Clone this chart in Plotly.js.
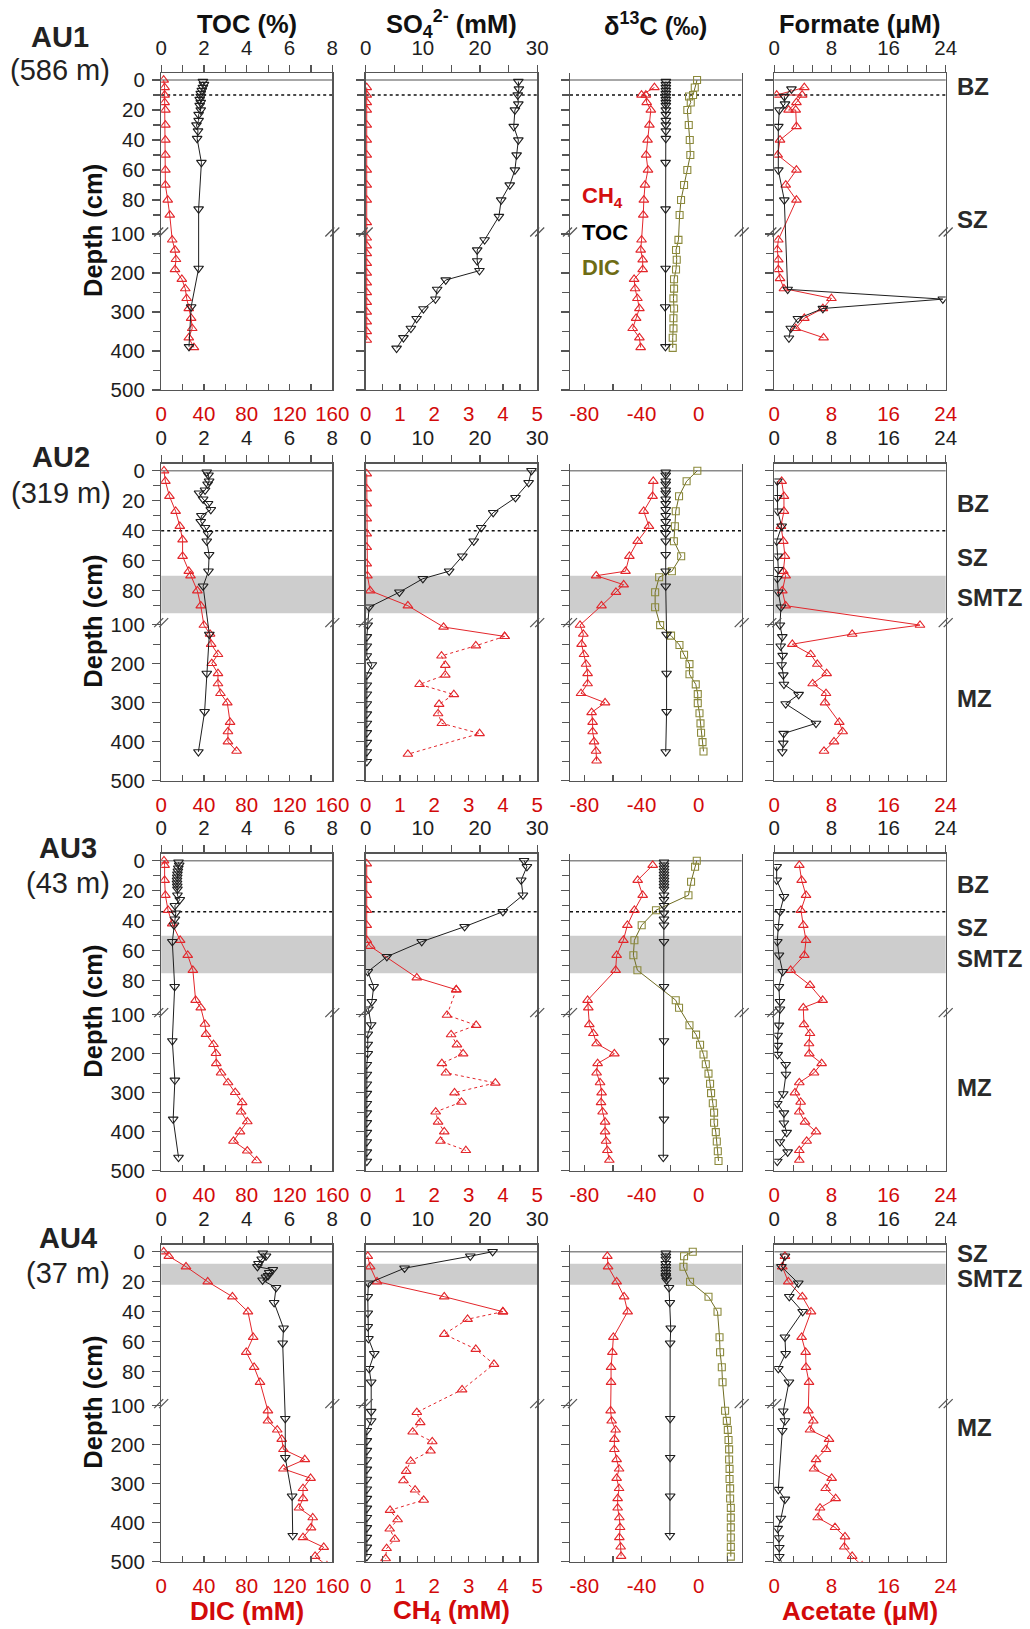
<!DOCTYPE html>
<html><head><meta charset="utf-8">
<script src="https://cdn.plot.ly/plotly-3.0.1.min.js"></script>
<style>body{margin:0;background:#fff}#chart{width:1030px;height:1629px}</style>
</head><body><div id="chart"></div>
<script>
// ---------------- DATA (depth in cm) ----------------
// AU1 (586 m)
const au1_toc_depth = [1,3,5,7,9,11,13,15,17,20,23,27,30,34,39,55,86,188,287,389];
const au1_toc = [1.95,2.0,1.95,1.9,1.85,1.85,1.8,1.85,1.8,1.85,1.75,1.75,1.65,1.72,1.68,1.88,1.75,1.75,1.4,1.3];
const au1_d13toc = [-23,-23,-23,-23,-23,-23,-23,-23,-23,-23,-23,-23,-23,-23,-23,-23.2,-23.2,-23.2,-23.5,-23.3];
const au1_dic_depth = [0,5,10,15,20,30,40,50,60,70,80,90,115,141,165,191,216,240,265,291,316,342,366,391];
const au1_dic = [2.3,3.2,3.2,3.2,3.9,3.9,3.9,3.9,3.9,3.9,6.1,8.0,10.3,12.9,13.8,12.9,19.3,22.5,23.8,25.8,28.0,29.0,25.8,30.6];
const au1_so4_depth = [1,6,10,16,20,31,40,50,60,70,80,91,115,141,169,194,218,242,267,292,317,342,366,393];
const au1_so4 = [26.7,26.8,26.6,26.7,26.1,25.9,26.7,26.4,26.1,25.2,23.7,23.3,20.8,19.5,19.5,19.9,14.0,12.5,12.2,10.1,8.9,7.9,6.6,5.4];
const au1_ch4_depth = [5,10,15,20,30,40,50,60,70,80,95,110,130,150,175,200,225,250,275,300,325,350,372];
const au1_ch4 = [0.03,0.03,0.03,0.03,0.03,0.03,0.03,0.03,0.03,0.03,0.03,0.03,0.03,0.03,0.03,0.03,0.03,0.03,0.03,0.03,0.03,0.03,0.03];
const au1_d13ch4_depth = [5,10,10,15,20,30,40,50,60,70,80,90,115,141,166,191,216,240,265,291,316,342,366,391];
const au1_d13ch4 = [-31,-40,-37,-36.4,-33.5,-34.5,-35.8,-36.8,-35.5,-37.6,-38.4,-38.8,-40,-40.6,-39.2,-39.2,-45.2,-44.5,-42.9,-41.5,-43.8,-46.2,-41.5,-40.6];
const au1_d13dic_depth = [0,5,10,11,15,20,30,40,50,60,70,80,90,115,141,166,191,216,240,265,291,316,342,366,392];
const au1_d13dic = [-1.2,-2.8,-4.0,-6.8,-5.6,-8.0,-7.0,-6.3,-5.9,-8.0,-10.3,-12.4,-13.4,-14.2,-15.9,-15.4,-15.9,-17.3,-17.3,-17.7,-17.3,-17.7,-17.7,-18.2,-18.2];
const au1_form_depth = [6,11,16,20,31,60,80,242,267,291,317,342,367];
const au1_form = [2.4,1.4,1.5,0.7,0.56,0.56,1.4,1.87,23.6,6.8,3.3,2.3,2.05];
const au1_acet_depth = [5,10,10,15,20,20,31,40,50,60,70,80,115,140,166,191,214,240,265,291,316,342,366];
const au1_acet = [4.2,0.33,3.9,3.1,2.0,3.0,3.1,0.8,0.47,3.1,1.6,3.1,0.56,0.42,0.56,0.56,0.8,1.35,8.0,6.8,4.2,3.0,6.9];

// AU2 (319 m)
const au2_toc_depth = [1,3,7,9,13,15,19,22,26,30,34,38,42,47,56,67,77,125,225,323,426];
const au2_toc = [2.13,2.21,2.24,2.17,2.05,1.77,1.96,2.19,2.32,1.88,1.85,2.05,2.19,2.13,2.24,2.21,1.96,2.25,2.13,2.03,1.74];
const au2_d13toc = [-23.1,-23.1,-23.1,-23.1,-23.1,-23.1,-23.1,-23.1,-23.1,-23.1,-23.1,-23.1,-23.1,-23.1,-23.1,-23.1,-23.1,-22.5,-22.5,-22.5,-23.1];
const au2_dic_depth = [0,7,17,27,37,46,57,67,70,80,90,101,124,150,176,199,225,251,276,300,350,374,400,424];
const au2_dic = [2.6,3.9,7.7,13.5,17.4,20,20,25.8,27.4,33.8,37,39.9,45.7,46.7,53.1,47.3,53.1,53.1,55.4,61.8,64.4,62.4,62.4,70.5];
const au2_so4_depth = [0,8,18,28,38,47,57,67,72,81,91,101,131,155,180,203,229,255,278,303,329,353,377,402,426,451];
const au2_so4 = [29,28.5,26.2,22.3,20.2,18.9,16.9,14.6,10,5.9,0.6,0.35,0.2,0.2,0.2,1.08,0.2,0.2,0.2,0.2,0.2,0.2,0.2,0.2,0.2,0.2];
const au2_ch4_depth = [2,12,22,32,42,51,62,70,80,90,106,130,154,180,204,229,253,279,304,328,353,379,432];
const au2_ch4 = [0.03,0.03,0.03,0.03,0.03,0.03,0.03,0.05,0.13,1.23,2.27,4.05,3.21,2.21,2.32,2.32,1.57,2.57,2.14,2.11,2.22,3.32,1.23];
const au2_d13ch4_depth = [7,17,27,37,47,57,67,70,76,81,90,101,124,150,176,201,225,251,276,300,325,350,374,400,424,449];
const au2_d13ch4 = [-31.8,-32.3,-38.5,-34.8,-42.7,-48.5,-51.2,-71.7,-52.5,-57.9,-68,-83,-80.7,-81.9,-80.2,-78.8,-77.7,-77.7,-82.3,-65.5,-74.9,-74.2,-74.2,-73.2,-71.8,-71.4];
const au2_d13dic_depth = [0,7,17,27,37,47,57,67,71,81,91,101,128,152,177,201,227,253,278,301,327,353,377,401,425];
const au2_d13dic = [-1,-8.5,-13.8,-16.1,-16.7,-17.4,-12.3,-18.8,-27.7,-30.5,-30.5,-27,-19.4,-13.5,-10.3,-6.5,-6.5,-2.1,-0.7,-0.7,0.5,1.2,1.6,2.6,3.3];
const au2_form_depth = [7,18,27,37,47,57,66,72,81,91,101,131,155,179,203,229,253,279,303,353,379,404,426];
const au2_form = [0.42,0.42,0.47,1.03,0.33,0.47,0.56,0.42,0.56,0.93,0.79,1.12,0.89,1.17,1.03,1.26,1.35,3.41,1.59,5.84,1.31,1.26,1.12];
const au2_acet_depth = [7,17,27,37,47,57,67,70,80,90,101,124,150,176,201,225,251,276,300,350,374,400,424];
const au2_acet = [1.03,1.35,1.35,0.93,1.26,1.49,1.26,1.59,1.12,1.59,20.4,10.9,2.52,5.09,6.02,7.33,5.37,7.24,7.1,9.1,9.57,8.36,6.96];

// AU3 (43 m)
const au3_toc_depth = [1,3,5,7,9,11,13,15,17,19,23,26,30,35,39,43,54,84,167,268,368,466];
const au3_toc = [0.81,0.84,0.8,0.78,0.76,0.75,0.74,0.74,0.75,0.76,0.76,0.87,0.64,0.68,0.64,0.6,0.52,0.63,0.52,0.64,0.56,0.81];
const au3_d13toc = [-24.3,-24.3,-24.3,-24.3,-24.3,-24.3,-24.3,-24.3,-24.3,-24.3,-24.3,-24.3,-24.3,-24.3,-24.3,-24.3,-24.3,-24.3,-24.3,-24.3,-24.3,-24.8];
const au3_dic_depth = [0,3,13,23,33,42,53,63,73,93,98,124,150,176,199,225,249,274,299,325,349,374,400,424,449,474];
const au3_dic = [2.6,3.2,3.2,3.9,6.4,10.3,17.7,24.8,29.6,32.2,37,40.9,41.9,48.9,51.2,51.5,56,62.5,69.2,75.7,74.7,80.5,73.7,67.6,80.5,89.2];
const au3_so4_depth = [0,4,13,23,34,44,54,64,74,84,94,99,126,150,176,200,228,253,278,302,328,352,377,402,426,452,476];
const au3_so4 = [27.7,28.2,27.2,27.5,24,17.3,9.8,3.7,0.36,1.39,1.08,0.48,0.96,0.36,0.36,0.36,0.2,0.2,0.2,0.2,0.2,0.2,0.2,0.2,0.2,0.2,0.2];
const au3_ch4_depth = [2,13,23,33,43,53,57,78,86,101,127,151,177,200,225,249,275,300,324,349,375,400,424,448];
const au3_ch4 = [0.03,0.03,0.03,0.03,0.03,0.03,0.13,1.49,2.64,2.37,3.22,2.49,2.66,2.84,2.22,2.34,3.78,2.59,2.79,2.04,2.11,2.29,2.18,2.92];
const au3_d13ch4_depth = [3,13,23,33,43,53,63,73,93,98,125,148,174,200,225,249,274,300,325,349,375,400,424,448,473];
const au3_d13ch4 = [-32.2,-42.7,-39.2,-45,-49.9,-52.7,-57.4,-58.1,-77.7,-77.2,-76.5,-73.7,-71.4,-59,-70.7,-71.4,-69,-67.9,-68.3,-67.2,-65.5,-65.5,-64.8,-63.9,-62.5];
const au3_d13dic_depth = [0,4,14,23,33,43,53,63,73,93,98,127,151,177,202,227,251,277,301,327,351,377,401,425,450,475];
const au3_d13dic = [-1.4,-2.6,-5.4,-7.2,-29.9,-39.9,-45,-45.7,-42.9,-16.1,-13.8,-6.5,-1.9,0.9,3.3,4.9,6.8,7.9,8.6,9.8,10.7,10.7,11.9,12.6,13.3,13.8];
const au3_form_depth = [4,13,24,34,44,54,63,74,84,94,99,127,153,179,202,228,253,303,328,352,378,402,426,452,476];
const au3_form = [0.33,0.33,1.35,0.79,0.56,0.42,0.65,1.17,0.65,0.79,0.79,0.65,0.47,0.47,0.47,1.59,1.63,1.26,0.42,1.35,1.35,1.73,0.79,1.87,0.42];
const au3_acet_depth = [3,13,23,33,43,53,63,73,83,93,98,125,148,174,200,225,249,274,300,324,349,375,400,424,448,473];
const au3_acet = [3.5,3.83,4.44,3.73,4.06,4.44,4.2,2.29,5,6.77,4.06,4.15,5,4.86,4.9,6.63,5.56,3.5,2.89,3.69,3.5,4.3,5.84,4.53,3.5,3.5];

// AU4 (37 m)
const au4_toc_depth = [1,3,5,8,10,12,14,16,17,19,24,34,51,61,133,233,332,433];
const au4_toc = [4.75,4.9,4.7,4.55,4.5,5.22,5.05,5.0,4.9,4.74,5.37,5.28,5.72,5.68,5.8,5.8,6.12,6.15];
const au4_d13toc = [-23,-23,-23,-23,-23,-23,-23,-23,-23,-22.5,-20.8,-20.2,-19.6,-20,-20,-20,-20,-20.2];
const au4_dic_depth = [0,3,10,20,30,40,57,67,77,87,113,139,162,186,212,238,262,286,312,338,362,387,413,438,463,486,510];
const au4_dic = [2.3,7.1,23.2,43.5,66.6,81.1,86,79.5,86.9,92.4,99.8,99.8,108.5,112.7,114.3,134.3,114.3,139.7,132.6,132.6,128.8,141.7,140.1,132.6,152,143.9,155];
const au4_so4_depth = [0,3,11,21,30,41,50,58,68,78,87,115,139,164,190,215,239,263,289,314,338,363,387,413,438,463,487];
const au4_so4 = [22.2,18.3,6.8,0.48,0.36,0.36,0.36,0.48,1.5,0.6,0.96,0.96,0.96,0.2,0.2,0.2,0.2,0.2,0.2,0.2,0.2,0.2,0.2,0.2,0.2,0.2,0.2];
const au4_ch4_depth = [3,10,20,30,40,45,55,65,75,92,117,143,167,192,216,242,268,292,316,342,368,392,416,442,466,492];
const au4_ch4 = [0.06,0.13,0.33,2.29,4.0,2.97,2.29,3.21,3.74,2.81,1.49,1.59,1.37,1.94,1.89,1.31,1.18,1.1,1.44,1.69,0.71,0.93,0.7,0.85,0.61,0.58];
const au4_d13ch4_depth = [3,10,20,30,40,57,67,77,87,113,139,162,186,212,238,262,286,312,338,362,387,412,438,462,486];
const au4_d13ch4 = [-63.9,-63.4,-57.4,-52.2,-49.7,-59.7,-60.4,-61.3,-61.3,-61.6,-60.9,-58.1,-59,-59,-57.4,-55.7,-57.4,-55.7,-56.7,-56.7,-55.5,-55,-55.5,-54.6,-54.3];
const au4_d13dic_depth = [0,3,10,20,30,40,57,67,77,87,113,139,162,188,212,238,262,288,312,338,362,387,412,438,462,487];
const au4_d13dic = [-4.2,-10.3,-10.7,-6.1,6.8,13.1,14.5,14.9,16.1,16.6,18.4,19.6,20.3,20.8,21.2,21.2,21.5,21.5,21.9,21.9,22.4,22.4,22.4,22.4,22.4,22.4];
const au4_form_depth = [3,10,21,30,40,57,68,78,87,114,139,164,315,340,389,415,439,464,487,510];
const au4_form = [1.49,1.0,3.36,2.1,3.97,1.49,1.59,0.56,2.05,1.26,1.49,1.12,0.56,1.49,0.93,0.47,0.65,0.7,0.7,1.2];
const au4_acet_depth = [3,10,20,30,40,57,67,77,87,113,139,162,186,212,238,262,286,312,338,362,387,412,436,462,486,510];
const au4_acet = [1.49,1.12,1.96,3.92,5.14,3.83,4.39,4.44,4.86,4.76,5.46,5.0,7.66,7.24,5.84,5.56,8.03,7.19,8.59,6.4,6.07,8.5,9.9,9.8,10.9,12.3];

// site labels, zones
const siteNames = ['AU1','AU2','AU3','AU4'];
const siteDepths = ['(586 m)','(319 m)','(43 m)','(37 m)'];
const bzBoundary = [10, 40, 34, null];          // dotted line depth (cm)
const smtzBand = [null, [70,95], [50,75], [8,22]];  // grey band (cm)
const ch4SolidEnd = [null, 11, 8, 4];            // index where CH4 line turns dotted

// depth axis ticks (broken axis)
const depthTickLabels = ['0','20','40','60','80','100','200','300','400','500'];
const depthTickDepths = [0,20,40,60,80,100.01,200,300,400,500];
const depthMinorDepths = [10,30,50,70,90,150,250,350,450];

// x axis ticks
const bottomTicks = [[0,40,80,120,160],[0,1,2,3,4,5],[-80,-40,0],[0,8,16,24]];
const topTicks = [[0,2,4,6,8],[0,10,20,30],[-80,-40,0],[0,8,16,24]];

// ---------------- LAYOUT HELPERS ----------------
const W = 1030, H = 1629;
const FONT = 'Liberation Sans, Arial, Helvetica, sans-serif';
const TICKSIZE = 20.5;
const RED = '#e3262b', REDTXT = '#d20a0a', BLK = '#1e1e1e', OLV = '#8c8a3c', OLVLINE = '#6f6c22', AX = '#555555';
function tD(d){ return d <= 100 ? d*1.5 : 154 + (d-100)*0.39; }
function px(x){ return x / W; }
function py(y){ return 1 - y / H; }

const rowsPx = [[73,390],[463.7,780.7],[853.7,1170.7],[1244.7,1561.7]];
const colsPx = [[161.2,332.3],[365.7,537.2],[570,741.7],[774.3,945.7]];
const bottomRanges = [[0,160],[0,5],[-90,30],[0,24]];
const topRanges = [[0,8],[0,30],[-90,30],[0,24]];
const bottomMinor = [[20,60,100,140],[0.5,1.5,2.5,3.5,4.5],[-60,-20,20],[2.667,5.333,10.667,13.333,18.667,21.333]];
const topMinor = [[1,3,5,7],[5,15,25],[-60,-20,20],[2.667,5.333,10.667,13.333,18.667,21.333]];

const cores = [
 {toc:[au1_toc_depth,au1_toc,au1_d13toc], dic:[au1_dic_depth,au1_dic], so4:[au1_so4_depth,au1_so4], ch4:[au1_ch4_depth,au1_ch4],
  d13ch4:[au1_d13ch4_depth,au1_d13ch4], d13dic:[au1_d13dic_depth,au1_d13dic], form:[au1_form_depth,au1_form], acet:[au1_acet_depth,au1_acet]},
 {toc:[au2_toc_depth,au2_toc,au2_d13toc], dic:[au2_dic_depth,au2_dic], so4:[au2_so4_depth,au2_so4], ch4:[au2_ch4_depth,au2_ch4],
  d13ch4:[au2_d13ch4_depth,au2_d13ch4], d13dic:[au2_d13dic_depth,au2_d13dic], form:[au2_form_depth,au2_form], acet:[au2_acet_depth,au2_acet]},
 {toc:[au3_toc_depth,au3_toc,au3_d13toc], dic:[au3_dic_depth,au3_dic], so4:[au3_so4_depth,au3_so4], ch4:[au3_ch4_depth,au3_ch4],
  d13ch4:[au3_d13ch4_depth,au3_d13ch4], d13dic:[au3_d13dic_depth,au3_d13dic], form:[au3_form_depth,au3_form], acet:[au3_acet_depth,au3_acet]},
 {toc:[au4_toc_depth,au4_toc,au4_d13toc], dic:[au4_dic_depth,au4_dic], so4:[au4_so4_depth,au4_so4], ch4:[au4_ch4_depth,au4_ch4],
  d13ch4:[au4_d13ch4_depth,au4_d13ch4], d13dic:[au4_d13dic_depth,au4_d13dic], form:[au4_form_depth,au4_form], acet:[au4_acet_depth,au4_acet]}
];

const styles = {
  red:   {symbol:'triangle-up-open',   size:8.5, mcolor:RED, lcolor:RED},
  black: {symbol:'triangle-down-open', size:8.5, mcolor:BLK, lcolor:BLK},
  olive: {symbol:'square-open',        size:7,   mcolor:OLV, lcolor:OLVLINE}
};

const data = [];
function addSeries(xvals, depths, xa, ya, kind, dash){
  const s = styles[kind];
  data.push({
    type:'scatter', mode:'lines+markers', x:xvals, y:depths.map(tD),
    xaxis:xa, yaxis:ya, cliponaxis:true, showlegend:false, hoverinfo:'skip',
    line:{color:s.lcolor, width:1, dash:dash||'solid'},
    marker:{symbol:s.symbol, size:s.size, color:s.mcolor, line:{color:s.mcolor, width:1.1}}
  });
}

const layout = {
  width:W, height:H, margin:{l:0,r:0,t:0,b:0},
  paper_bgcolor:'#ffffff', plot_bgcolor:'rgba(0,0,0,0)',
  font:{family:FONT, size:TICKSIZE, color:BLK},
  showlegend:false, shapes:[], annotations:[]
};

function axName(prefix, n){ return prefix + (n===1 ? '' : n); }
function axKey(prefix, n){ return prefix + 'axis' + (n===1 ? '' : n); }

for (let r=0; r<4; r++){
  const core = cores[r];
  for (let c=0; c<4; c++){
    const p = r*4 + c;
    const nb = p + 1, nt = p + 17, ny = p + 1;
    const xb = axName('x', nb), xt = axName('x', nt), yy = axName('y', ny);
    const dom = [px(colsPx[c][0]), px(colsPx[c][1])];
    layout[axKey('y', ny)] = {
      domain:[py(rowsPx[r][1]), py(rowsPx[r][0])], anchor:xb, range:[310,-7],
      tickmode:'array', tickvals:depthTickDepths.map(tD), ticktext:depthTickLabels,
      showticklabels: c===0, ticks:'outside', ticklen:8, tickwidth:1.2, tickcolor:AX,
      minor:{tickmode:'array', tickvals:depthMinorDepths.map(tD), ticks:'outside', ticklen:7, tickwidth:1.2, tickcolor:AX},
      showline:true, linecolor:AX, linewidth:1.3, mirror:true, showgrid:false, zeroline:false,
      tickfont:{family:FONT, size:TICKSIZE, color:BLK}, ticklabelstandoff:3, fixedrange:true
    };
    layout[axKey('x', nb)] = {
      domain:dom, anchor:yy, side:'bottom', range:bottomRanges[c],
      tickmode:'array', tickvals:bottomTicks[c], ticktext:bottomTicks[c].map(String),
      ticks:'inside', ticklen:6, tickwidth:1.2, tickcolor:AX,
      minor:{tickmode:'array', tickvals:bottomMinor[c], ticks:'inside', ticklen:6, tickwidth:1.2, tickcolor:AX},
      showline:true, linecolor:AX, linewidth:1.3, showgrid:false, zeroline:false,
      tickfont:{family:FONT, size:TICKSIZE, color:REDTXT}, ticklabelstandoff:5, fixedrange:true
    };
    layout[axKey('x', nt)] = {
      overlaying:xb, anchor:yy, side:'top', range:topRanges[c],
      tickmode:'array', tickvals:topTicks[c], ticktext:topTicks[c].map(String),
      ticks:'outside', ticklen:7, tickwidth:1.2, tickcolor:AX,
      minor:{tickmode:'array', tickvals:topMinor[c], ticks:'outside', ticklen:7, tickwidth:1.2, tickcolor:AX},
      showline:true, linecolor:AX, linewidth:1.3, showgrid:false, zeroline:false,
      tickfont:{family:FONT, size:TICKSIZE, color:BLK}, ticklabelstandoff:2, fixedrange:true
    };

    // decorations: band, zero line, dotted boundary, axis breaks
    const xdom = xb + ' domain';
    if (smtzBand[r]) layout.shapes.push({type:'rect', xref:xdom, yref:yy, x0:0, x1:1, y0:tD(smtzBand[r][0]), y1:tD(smtzBand[r][1]), fillcolor:'#cdcdcd', line:{width:0}, layer:'below'});
    layout.shapes.push({type:'line', xref:xdom, yref:yy, x0:0, x1:1, y0:0, y1:0, line:{color:'#8a8a8a', width:1.6}, layer:'below'});
    if (bzBoundary[r] !== null) layout.shapes.push({type:'line', xref:xdom, yref:yy, x0:0, x1:1, y0:tD(bzBoundary[r]), y1:tD(bzBoundary[r]), line:{color:'#111', width:1.5, dash:'dot'}, layer:'below'});
    for (const side of [0,1]){
      for (const dx of [-2.5,2.5]){
        layout.shapes.push({type:'line', xref:xdom, yref:yy, xsizemode:'pixel', xanchor:side, ysizemode:'pixel', yanchor:152,
          x0:dx-4.5, x1:dx+4.5, y0:-4.5, y1:4.5, line:{color:AX, width:1.2}});
      }
    }

    // series
    if (c===0){
      addSeries(core.dic[1], core.dic[0], xb, yy, 'red');
      addSeries(core.toc[1], core.toc[0], xt, yy, 'black');
    } else if (c===1){
      addSeries(core.so4[1], core.so4[0], xt, yy, 'black');
      const k = ch4SolidEnd[r];
      if (k === null){
        addSeries(core.ch4[1], core.ch4[0], xb, yy, 'red');
      } else {
        addSeries(core.ch4[1].slice(0,k+1), core.ch4[0].slice(0,k+1), xb, yy, 'red');
        addSeries(core.ch4[1].slice(k), core.ch4[0].slice(k), xb, yy, 'red', 'dot');
      }
    } else if (c===2){
      addSeries(core.d13dic[1], core.d13dic[0], xb, yy, 'olive');
      addSeries(core.toc[2], core.toc[0], xb, yy, 'black');
      addSeries(core.d13ch4[1], core.d13ch4[0], xb, yy, 'red');
    } else {
      addSeries(core.form[1], core.form[0], xt, yy, 'black');
      addSeries(core.acet[1], core.acet[0], xb, yy, 'red');
    }
  }
}

// ---------------- ANNOTATIONS ----------------
function ann(text, x, y, opt){
  layout.annotations.push(Object.assign({text:text, xref:'paper', yref:'paper', x:px(x), y:py(y),
    xanchor:'center', yanchor:'middle', showarrow:false, font:{family:FONT, size:19, color:BLK}}, opt||{}));
}
// column titles (top)
const colTitles = ['<b>TOC (%)</b>','<b>SO<sub>4</sub><sup>2-</sup> (mM)</b>','<b>δ<sup>13</sup>C (‰)</b>','<b>Formate (μM)</b>'];
colTitles.forEach((t,i)=>ann(t, (colsPx[i][0]+colsPx[i][1])/2, 24, {font:{family:FONT, size:25.5, color:'#111'}}));
// bottom titles
const botTitles = ['<b>DIC (mM)</b>','<b>CH<sub>4</sub> (mM)</b>', '', '<b>Acetate (μM)</b>'];
botTitles.forEach((t,i)=>{ if(t) ann(t, (colsPx[i][0]+colsPx[i][1])/2, 1611, {font:{family:FONT, size:26, color:REDTXT}}); });
// site labels
const siteX = [60, 60.5, 68.2, 68.2];
const siteY = [[37,70],[457,493],[848,883],[1238,1273]];
for (let r=0;r<4;r++){
  ann('<b>'+siteNames[r]+'</b>', siteX[r], siteY[r][0], {font:{family:FONT, size:29, color:'#222'}});
  ann(siteDepths[r], siteX[r], siteY[r][1], {font:{family:FONT, size:29, color:'#222'}});
  ann('<b>Depth (cm)</b>', 93, rowsPx[r][0]+158, {textangle:-90, font:{family:FONT, size:25.5, color:'#111'}});
}
// zone labels
const zoneLabels = [[['BZ',87],['SZ',220]],[['BZ',503],['SZ',557],['SMTZ',597],['MZ',698]],
                    [['BZ',885],['SZ',927],['SMTZ',958],['MZ',1087]],[['SZ',1253],['SMTZ',1278],['MZ',1427]]];
zoneLabels.forEach(row=>row.forEach(z=>ann('<b>'+z[0]+'</b>', 955, z[1], {xanchor:'left', font:{family:FONT, size:24, color:'#2a2a2a'}})));
// legend text in delta13C panel
ann('<b>CH<sub>4</sub></b>', 580, 197, {xanchor:'left', font:{family:FONT, size:22, color:'#d40f0f'}});
ann('<b>TOC</b>', 580, 233, {xanchor:'left', font:{family:FONT, size:22, color:'#000'}});
ann('<b>DIC</b>', 580, 267, {xanchor:'left', font:{family:FONT, size:22, color:'#6e6c14'}});

Plotly.newPlot('chart', data, layout, {staticPlot:true, displayModeBar:false});
</script></body></html>
